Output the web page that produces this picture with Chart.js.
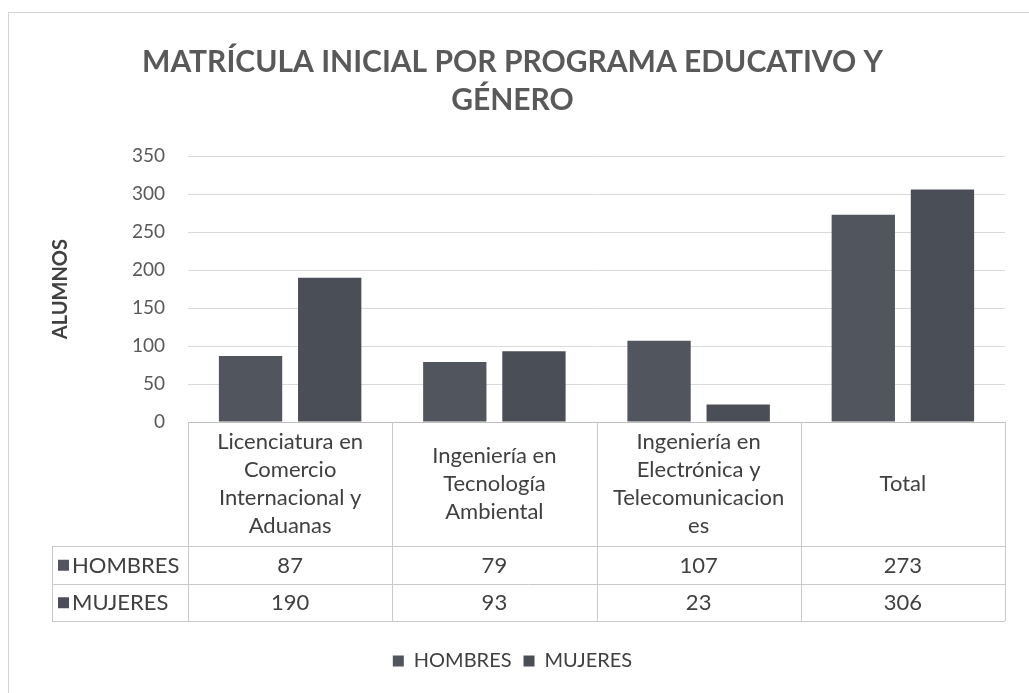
<!DOCTYPE html>
<html>
<head>
<meta charset="utf-8">
<script src="https://cdn.jsdelivr.net/npm/chart.js@4"></script>
<style>
  html, body { margin: 0; padding: 0; background: #ffffff; }
  #wrap { width: 1029px; height: 693px; }
</style>
</head>
<body>
<div id="wrap"><canvas id="chart"></canvas></div>
<script>
  /* ── data ── */
  const categories = [
    ['Licenciatura en', 'Comercio', 'Internacional y', 'Aduanas'],
    ['Ingeniería en', 'Tecnología', 'Ambiental'],
    ['Ingeniería en', 'Electrónica y', 'Telecomunicacion', 'es'],
    ['Total']
  ];
  const seriesNames = ['HOMBRES', 'MUJERES'];
  const hombres = [87, 79, 107, 273];
  const mujeres = [190, 93, 23, 306];
  const yTicks = [0, 50, 100, 150, 200, 250, 300, 350];

  const colors = ['#51555d', '#4a4e56'];
  const FONT = 'Lato, "Open Sans", sans-serif';
  const textGray = '#595959';
  const lineGray = '#c9c9c9';

  /* ── data table under the axis, drawn like Excel's ── */
  const dataTable = {
    id: 'dataTable',
    beforeDraw(chart) {
      const { ctx } = chart;
      ctx.save();
      ctx.strokeStyle = '#d4d4d4';
      ctx.lineWidth = 1;
      ctx.strokeRect(8.5, 12.5, 1100, 800);
      ctx.restore();
    },
    afterDraw(chart) {
      const { ctx, chartArea: a, scales: { x } } = chart;
      const n = categories.length;
      const step = (a.right - a.left) / n;
      const edges = [];
      for (let i = 0; i <= n; i++) edges.push(a.left + i * step);
      const headTop = a.bottom;
      const headBottom = a.bottom + 124;
      const rowH = 37.5;
      const tableLeft = 52;
      const rows = [hombres, mujeres];
      const tableBottom = headBottom + rowH * rows.length;

      ctx.save();
      ctx.strokeStyle = lineGray;
      ctx.lineWidth = 1;
      ctx.beginPath();
      edges.forEach(e => {
        const px = Math.round(e) + 0.5;
        ctx.moveTo(px, headTop);
        ctx.lineTo(px, tableBottom);
      });
      ctx.moveTo(tableLeft + 0.5, headBottom);
      ctx.lineTo(tableLeft + 0.5, tableBottom);
      for (let r = 0; r <= rows.length; r++) {
        const py = Math.round(headBottom + r * rowH) + 0.5;
        ctx.moveTo(tableLeft, py);
        ctx.lineTo(edges[n], py);
      }
      ctx.stroke();

      // category labels, centred in the header cell
      ctx.fillStyle = '#404040';
      ctx.font = '22px ' + FONT;
      ctx.textAlign = 'center';
      ctx.textBaseline = 'middle';
      const lh = 28;
      categories.forEach((lines, i) => {
        const cx = x.getPixelForValue(i);
        const mid = (headTop + headBottom) / 2;
        lines.forEach((t, k) => {
          ctx.fillText(t, cx, mid + (k - (lines.length - 1) / 2) * lh);
        });
      });

      // value rows
      rows.forEach((vals, r) => {
        const cy = headBottom + r * rowH + rowH / 2 + 1;
        ctx.fillStyle = colors[r];
        ctx.fillRect(tableLeft + 6, cy - 6, 11, 11);
        ctx.fillStyle = '#404040';
        ctx.textAlign = 'left';
        ctx.fillText(seriesNames[r], tableLeft + 20, cy);
        ctx.textAlign = 'center';
        vals.forEach((v, i) => ctx.fillText(String(v), x.getPixelForValue(i), cy));
      });
      ctx.restore();
    }
  };

  const ctx = document.getElementById('chart').getContext('2d');
  new Chart(ctx, {
    type: 'bar',
    data: {
      labels: categories,
      datasets: [
        { label: seriesNames[0], data: hombres, backgroundColor: colors[0] },
        { label: seriesNames[1], data: mujeres, backgroundColor: colors[1] }
      ]
    },
    options: {
      responsive: true,
      maintainAspectRatio: false,
      animation: false,
      datasets: { bar: { categoryPercentage: 0.775, barPercentage: 0.8 } },
      layout: { padding: { left: 20, right: 24, top: 12, bottom: 12 } },
      plugins: {
        title: {
          display: true,
          text: ['MATRÍCULA INICIAL POR PROGRAMA EDUCATIVO Y', 'GÉNERO'],
          color: textGray,
          font: { family: FONT, size: 30, weight: 'bold', lineHeight: 1.27 },
          padding: { top: 31, bottom: 37 }
        },
        legend: {
          position: 'bottom',
          labels: {
            color: '#404040',
            font: { family: FONT, size: 20 },
            boxWidth: 11,
            boxHeight: 11,
            padding: 12
          }
        },
        tooltip: { enabled: false }
      },
      scales: {
        x: {
          ticks: { display: false },
          grid: { display: false },
          border: { display: true, color: '#bfbfbf' },
          afterFit: s => { s.height = 217; }
        },
        y: {
          min: yTicks[0],
          max: yTicks[yTicks.length - 1],
          afterBuildTicks: s => { s.ticks = yTicks.map(v => ({ value: v })); },
          afterFit: s => { s.width = 168; },
          ticks: {
            color: textGray,
            font: { family: FONT, size: 19 },
            padding: 23
          },
          grid: { color: '#dadada', drawTicks: false },
          border: { display: false },
          title: {
            display: true,
            text: 'ALUMNOS',
            color: '#404040',
            font: { family: FONT, size: 20, weight: 'bold' },
            padding: { top: 29 }
          }
        }
      }
    },
    plugins: [dataTable]
  });
</script>
</body>
</html>
